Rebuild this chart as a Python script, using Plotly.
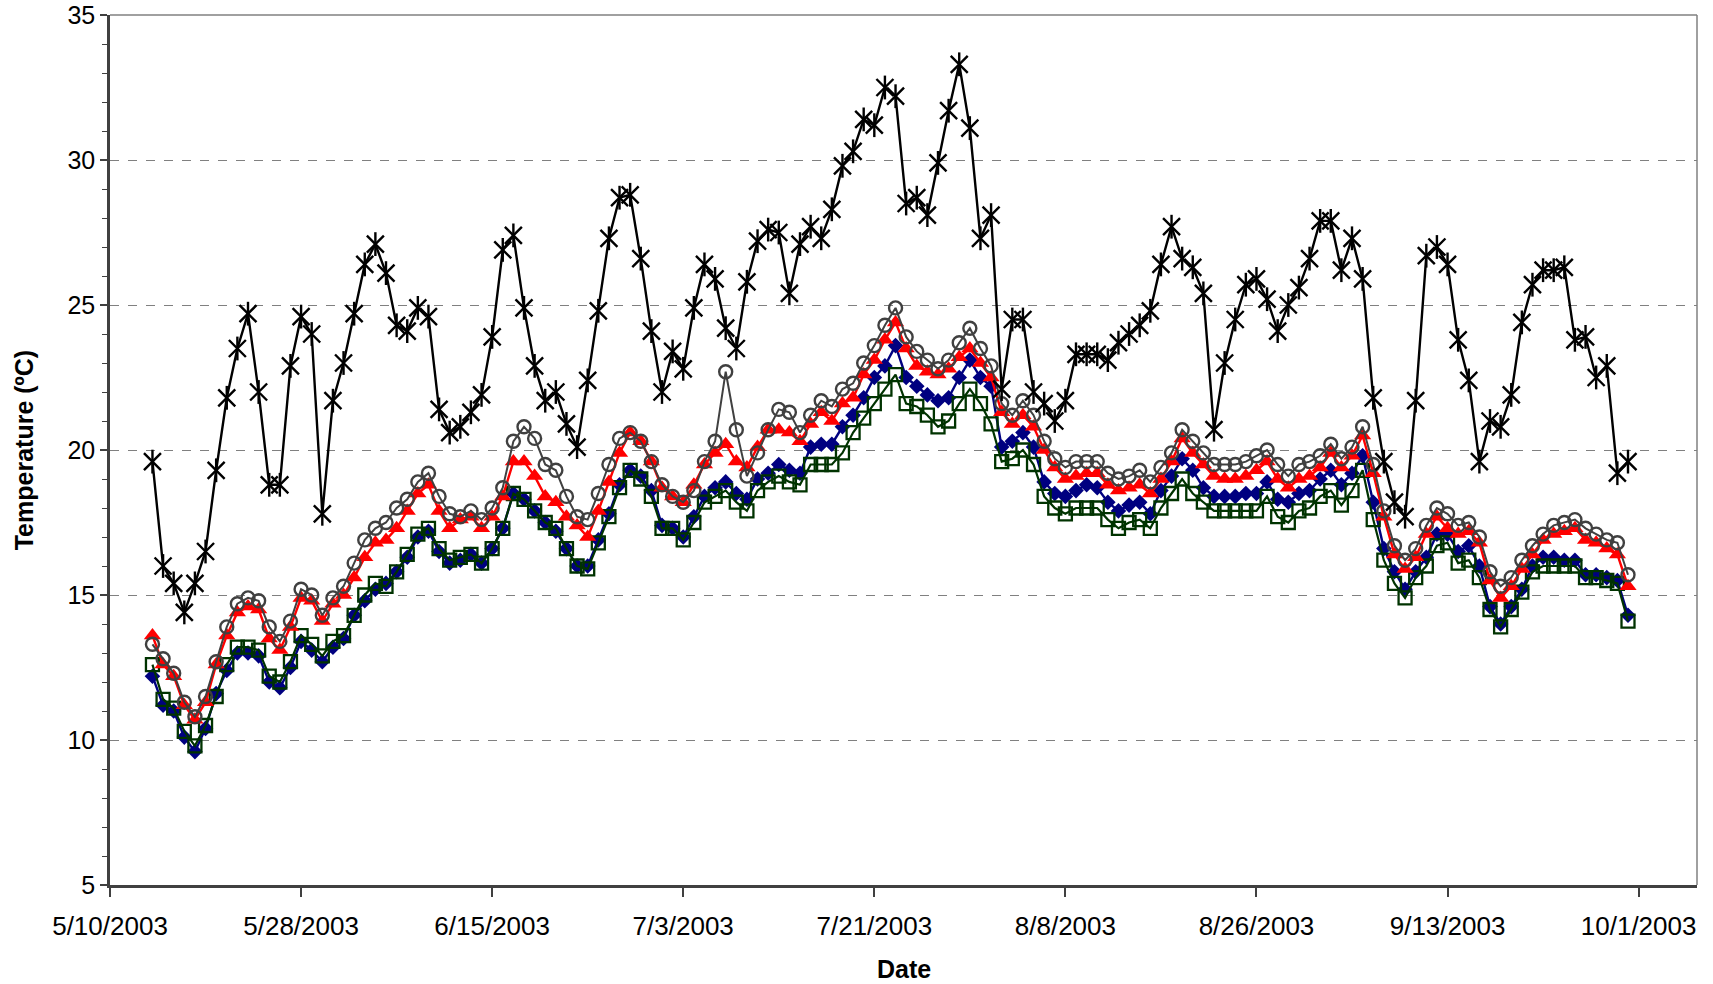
import pandas as pd
import plotly.graph_objects as go

# ---- data (daily, 5/14/2003 .. 9/30/2003) ----
start_date = "2003-05-14"
n_days = 140
dates = pd.date_range(start_date, periods=n_days, freq="D")

air = [19.6, 16.0, 15.4, 14.4, 15.4, 16.5, 19.3, 21.8, 23.5, 24.7, 22.0, 18.8, 18.8, 22.9, 24.6, 24.0, 17.8, 21.7, 23.0, 24.7,
       26.4, 27.1, 26.1, 24.3, 24.1, 24.9, 24.6, 21.4, 20.6, 20.8, 21.3, 21.9, 23.9, 26.9, 27.4, 24.9, 22.9, 21.7, 22.0, 20.9,
       20.1, 22.4, 24.8, 27.3, 28.7, 28.8, 26.6, 24.1, 22.0, 23.4, 22.8, 24.9, 26.4, 25.9, 24.2, 23.5, 25.8, 27.2, 27.6, 27.5,
       25.4, 27.1, 27.7, 27.3, 28.3, 29.8, 30.3, 31.4, 31.2, 32.5, 32.2, 28.5, 28.7, 28.1, 29.9, 31.7, 33.3, 31.1, 27.3, 28.1,
       22.1, 24.5, 24.5, 22.0, 21.6, 21.0, 21.7, 23.3, 23.3, 23.3, 23.1, 23.7, 24.0, 24.3, 24.8, 26.4, 27.7, 26.6, 26.3, 25.4,
       20.7, 23.0, 24.5, 25.7, 25.9, 25.2, 24.1, 25.0, 25.6, 26.6, 27.9, 27.9, 26.2, 27.3, 25.9, 21.8, 19.6, 18.2, 17.7, 21.7,
       26.7, 27.0, 26.4, 23.8, 22.4, 19.6, 21.0, 20.8, 21.9, 24.4, 25.7, 26.2, 26.2, 26.3, 23.8, 23.9, 22.5, 22.9, 19.2, 19.6]

gray_s = [13.3, 12.8, 12.3, 11.3, 10.8, 11.5, 12.7, 13.9, 14.7, 14.9, 14.8, 13.9, 13.4, 14.1, 15.2, 15.0, 14.3, 14.9, 15.3, 16.1,
          16.9, 17.3, 17.5, 18.0, 18.3, 18.9, 19.2, 18.4, 17.8, 17.7, 17.9, 17.6, 18.0, 18.7, 20.3, 20.8, 20.4, 19.5, 19.3, 18.4,
          17.7, 17.6, 18.5, 19.5, 20.4, 20.6, 20.3, 19.6, 18.8, 18.4, 18.2, 18.6, 19.6, 20.3, 22.7, 20.7, 19.1, 19.9, 20.7, 21.4,
          21.3, 20.6, 21.2, 21.7, 21.5, 22.1, 22.3, 23.0, 23.6, 24.3, 24.9, 23.9, 23.4, 23.1, 22.8, 23.1, 23.7, 24.2, 23.5, 22.9,
          21.6, 21.2, 21.7, 21.2, 20.3, 19.7, 19.4, 19.6, 19.6, 19.6, 19.2, 19.0, 19.1, 19.3, 18.9, 19.4, 19.9, 20.7, 20.3, 19.9,
          19.5, 19.5, 19.5, 19.6, 19.8, 20.0, 19.5, 19.1, 19.5, 19.6, 19.8, 20.2, 19.7, 20.1, 20.8, 19.5, 17.9, 16.7, 16.2, 16.6,
          17.4, 18.0, 17.8, 17.4, 17.5, 17.0, 15.8, 15.3, 15.6, 16.2, 16.7, 17.1, 17.4, 17.5, 17.6, 17.3, 17.1, 16.9, 16.8, 15.7]

red_s = [13.6, 12.6, 12.2, 11.2, 10.7, 11.3, 12.6, 13.6, 14.4, 14.6, 14.5, 13.5, 13.1, 13.9, 14.9, 14.8, 14.1, 14.7, 15.0, 15.6,
         16.3, 16.8, 16.9, 17.3, 17.9, 18.5, 18.8, 17.9, 17.3, 17.6, 17.7, 17.3, 17.7, 18.4, 19.6, 19.6, 19.1, 18.4, 18.2, 17.7,
         17.4, 17.0, 17.9, 18.9, 19.9, 20.6, 20.3, 19.6, 18.7, 18.4, 18.2, 18.8, 19.5, 19.9, 20.2, 19.6, 19.4, 20.1, 20.7, 20.7,
         20.6, 20.3, 20.9, 21.3, 21.0, 21.6, 21.8, 22.6, 23.1, 23.8, 24.4, 23.5, 22.9, 22.7, 22.6, 22.8, 23.2, 23.5, 23.0, 22.5,
         21.3, 20.9, 21.2, 20.8, 20.0, 19.4, 19.0, 19.1, 19.2, 19.2, 18.8, 18.6, 18.7, 18.8, 18.5, 19.0, 19.6, 20.4, 19.9, 19.5,
         19.1, 19.0, 19.0, 19.1, 19.3, 19.6, 19.0, 18.7, 19.0, 19.1, 19.4, 19.9, 19.4, 19.8, 20.5, 19.2, 17.7, 16.4, 15.9, 16.3,
         17.1, 17.7, 17.3, 17.1, 17.2, 16.8, 15.5, 14.9, 15.3, 15.9, 16.4, 16.9, 17.1, 17.2, 17.3, 16.9, 16.8, 16.6, 16.4, 15.3]

navy_s = [12.2, 11.2, 11.0, 10.1, 9.6, 10.4, 11.6, 12.4, 13.0, 13.0, 12.9, 12.0, 11.8, 12.5, 13.4, 13.1, 12.7, 13.2, 13.5, 14.3,
          14.8, 15.2, 15.4, 15.8, 16.3, 17.0, 17.2, 16.5, 16.1, 16.2, 16.4, 16.1, 16.6, 17.3, 18.5, 18.3, 17.9, 17.5, 17.2, 16.6,
          16.0, 16.0, 16.9, 17.8, 18.8, 19.3, 19.1, 18.6, 17.4, 17.3, 17.0, 17.7, 18.4, 18.7, 18.9, 18.5, 18.3, 19.0, 19.2, 19.5,
          19.3, 19.2, 20.1, 20.2, 20.2, 20.8, 21.2, 21.8, 22.5, 22.9, 23.6, 22.5, 22.2, 21.9, 21.7, 21.8, 22.5, 23.1, 22.5, 22.2,
          20.1, 20.3, 20.6, 20.1, 18.9, 18.5, 18.4, 18.6, 18.8, 18.7, 18.2, 17.9, 18.1, 18.2, 17.8, 18.6, 19.1, 19.7, 19.3, 18.7,
          18.4, 18.4, 18.4, 18.5, 18.5, 18.9, 18.3, 18.2, 18.5, 18.6, 19.0, 19.3, 18.8, 19.2, 19.8, 18.2, 16.6, 15.8, 15.2, 15.8,
          16.3, 17.1, 17.1, 16.5, 16.7, 16.0, 14.6, 14.0, 14.6, 15.2, 16.0, 16.3, 16.3, 16.2, 16.2, 15.7, 15.7, 15.6, 15.5, 14.3]

green_s = [12.6, 11.4, 11.1, 10.3, 9.8, 10.5, 11.5, 12.6, 13.2, 13.2, 13.1, 12.2, 12.0, 12.7, 13.6, 13.3, 12.9, 13.4, 13.6, 14.3,
           15.0, 15.4, 15.3, 15.8, 16.4, 17.1, 17.3, 16.6, 16.2, 16.3, 16.4, 16.1, 16.6, 17.3, 18.5, 18.3, 17.9, 17.5, 17.3, 16.6,
           16.0, 15.9, 16.8, 17.7, 18.7, 19.3, 19.0, 18.4, 17.3, 17.3, 16.9, 17.5, 18.2, 18.4, 18.6, 18.2, 17.9, 18.6, 18.9, 19.1,
           18.9, 18.8, 19.5, 19.5, 19.5, 19.9, 20.6, 21.1, 21.6, 22.1, 22.6, 21.6, 21.5, 21.2, 20.8, 21.0, 21.6, 22.1, 21.6, 20.9,
           19.6, 19.7, 20.0, 19.5, 18.4, 18.0, 17.8, 18.0, 18.0, 18.0, 17.6, 17.3, 17.5, 17.6, 17.3, 18.0, 18.5, 19.0, 18.5, 18.2,
           17.9, 17.9, 17.9, 17.9, 17.9, 18.4, 17.7, 17.5, 17.9, 18.0, 18.4, 18.6, 18.1, 18.6, 19.3, 17.6, 16.2, 15.4, 14.9, 15.6,
           16.0, 16.7, 16.8, 16.1, 16.2, 15.6, 14.5, 13.9, 14.5, 15.1, 15.8, 16.0, 16.0, 16.0, 16.0, 15.6, 15.6, 15.5, 15.4, 14.1]

tick_dates = ["2003-05-10", "2003-05-28", "2003-06-15", "2003-07-03", "2003-07-21",
              "2003-08-08", "2003-08-26", "2003-09-13", "2003-10-01"]
tick_labels = ["5/10/2003", "5/28/2003", "6/15/2003", "7/3/2003", "7/21/2003",
               "8/8/2003", "8/26/2003", "9/13/2003", "10/1/2003"]
y_ticks = [5, 10, 15, 20, 25, 30, 35]

FONT = "Arial, 'Liberation Sans', sans-serif"

fig = go.Figure()

# navy diamonds
fig.add_trace(go.Scatter(x=dates, y=navy_s, mode="lines+markers",
                         line=dict(color="#000080", width=2.4),
                         marker=dict(symbol="diamond", size=12, color="#000080"),
                         showlegend=False))
# dark green open squares
fig.add_trace(go.Scatter(x=dates, y=green_s, mode="lines+markers",
                         line=dict(color="#003300", width=2.2),
                         marker=dict(symbol="square-open", size=13, color="#003300",
                                     line=dict(width=2.3, color="#003300")),
                         showlegend=False))
# red triangles
fig.add_trace(go.Scatter(x=dates, y=red_s, mode="lines+markers",
                         line=dict(color="#FF0000", width=2.4),
                         marker=dict(symbol="triangle-up", size=15, color="#FF0000"),
                         showlegend=False))
# gray open circles
fig.add_trace(go.Scatter(x=dates, y=gray_s, mode="lines+markers",
                         line=dict(color="#404040", width=2.0),
                         marker=dict(symbol="circle-open", size=13, color="#404040",
                                     line=dict(width=2.4, color="#404040")),
                         showlegend=False))
# black star (X + vertical bar)
fig.add_trace(go.Scatter(x=dates, y=air, mode="lines+markers",
                         line=dict(color="#000000", width=2.4),
                         marker=dict(symbol="x-thin-open", size=17, color="#000000",
                                     line=dict(width=2.4, color="#000000")),
                         showlegend=False))
fig.add_trace(go.Scatter(x=dates, y=air, mode="markers",
                         marker=dict(symbol="line-ns-open", size=17, color="#000000",
                                     line=dict(width=2.4, color="#000000")),
                         showlegend=False, hoverinfo="skip"))

fig.update_layout(
    width=1713, height=984,
    margin=dict(l=110, r=16, t=15, b=99),
    paper_bgcolor="white", plot_bgcolor="white",
    font=dict(family=FONT, color="black", size=25),
    showlegend=False,
    xaxis=dict(
        type="date",
        range=["2003-05-10", "2003-10-06 12:00"],
        tickmode="array", tickvals=tick_dates, ticktext=tick_labels,
        ticks="outside", ticklen=9, tickwidth=1.5, tickcolor="#404040",
        showgrid=False, zeroline=False,
        showline=True, linecolor="#404040", linewidth=2.5,
        tickfont=dict(size=26, family=FONT, color="black"),
        ticklabelstandoff=7,
        automargin=False,
    ),
    yaxis=dict(
        range=[5, 35],
        tickmode="array", tickvals=y_ticks, ticktext=[str(v) for v in y_ticks],
        ticks="outside", ticklen=7, tickwidth=1.5, tickcolor="#404040",
        minor=dict(dtick=1, ticks="outside", ticklen=5, tickwidth=1.2, tickcolor="#404040", showgrid=False),
        showgrid=True, gridcolor="#808080", gridwidth=1.2, griddash="dash",
        zeroline=False,
        showline=True, linecolor="#404040", linewidth=2.5,
        tickfont=dict(size=25, family=FONT, color="black"),
        ticklabelstandoff=0,
        automargin=False,
    ),
    shapes=[
        dict(type="line", xref="paper", yref="paper", x0=0, x1=1, y0=1, y1=1,
             line=dict(color="#808080", width=1.5), layer="above"),
        dict(type="line", xref="paper", yref="paper", x0=1, x1=1, y0=0, y1=1,
             line=dict(color="#808080", width=1.5), layer="above"),
    ],
    annotations=[
        dict(text="<b>Date</b>", xref="paper", yref="paper", x=0.5, y=-0.096,
             xanchor="center", yanchor="middle", showarrow=False,
             font=dict(size=25, family=FONT, color="black")),
        dict(text="<b>Temperature (ºC)</b>", xref="paper", yref="paper", x=-0.054, y=0.5,
             xanchor="center", yanchor="middle", textangle=-90, showarrow=False,
             font=dict(size=25, family=FONT, color="black")),
    ],
)

fig.write_html("out.html", config={"displayModeBar": False},
               post_script="document.body.style.margin='0';document.body.style.overflow='hidden';")
